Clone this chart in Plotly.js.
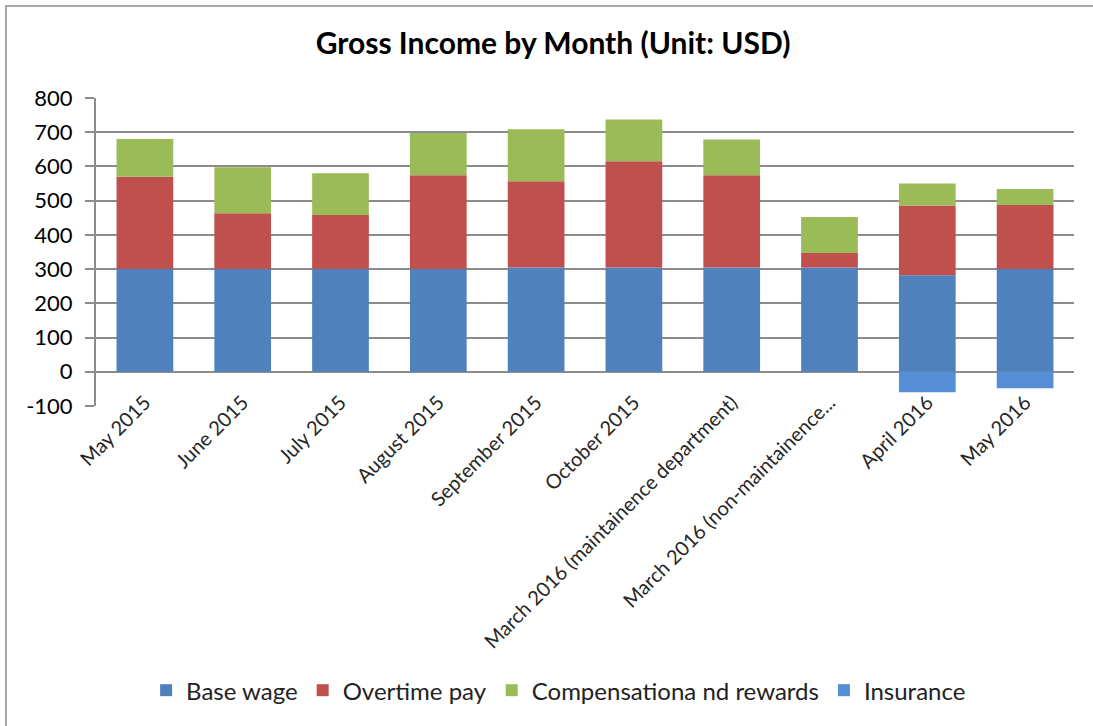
<!DOCTYPE html>
<html>
<head>
<meta charset="utf-8">
<script src="https://cdn.plot.ly/plotly-3.0.1.min.js"></script>
<style>
  html, body { margin: 0; padding: 0; background: #fff; }
  #wrap { position: relative; width: 1093px; height: 726px; }
  #chart { width: 1093px; height: 726px; }
  #frame { position: absolute; left: 5px; top: 5px; width: 1088px; height: 721px;
           border-left: 2px solid #a6a6a6; border-top: 2px solid #a6a6a6;
           box-sizing: border-box; pointer-events: none; }
</style>
</head>
<body>
<div id="wrap">
  <div id="chart"></div>
  <div id="frame"></div>
</div>
<script>
const categories = [
  "May 2015", "June 2015", "July 2015", "August 2015", "September 2015",
  "October 2015", "March 2016 (maintainence department)",
  "March 2016 (non-maintainence...", "April 2016", "May 2016"
];
const baseWage     = [300, 300, 300, 300, 305, 305, 305, 305, 282, 300];
const overtimePay  = [270, 163, 158, 274, 252, 310, 269, 42, 204, 187];
const compensation = [110, 135, 122, 124, 152, 122, 105, 105, 64, 47];
const insurance    = [0, 0, 0, 0, 0, 0, 0, 0, -60, -48];
const seriesNames  = ["Base wage", "Overtime pay", "Compensationa nd rewards", "Insurance"];
const yTicks       = [-100, 0, 100, 200, 300, 400, 500, 600, 700, 800];

const colors = ["#4F81BD", "#C0504D", "#9BBB59", "#558ED5"];
const series = [baseWage, overtimePay, compensation, insurance];

const traces = series.map((vals, i) => ({
  type: "bar",
  name: seriesNames[i],
  x: categories,
  y: vals,
  marker: { color: colors[i], line: { width: 0 } },
  hoverinfo: "x+y+name"
}));

const FONT = "Lato, 'Open Sans', sans-serif";

const layout = {
  width: 1093,
  height: 726,
  barmode: "relative",
  bargap: 0.42,
  paper_bgcolor: "#ffffff",
  plot_bgcolor: "#ffffff",
  margin: { l: 96, r: 19, t: 98, b: 320 },
  title: {
    text: "<b>Gross Income by Month (Unit: USD)</b>",
    font: { family: FONT, size: 30, color: "#000000" },
    x: 0.506, xanchor: "center", xref: "container",
    y: 0.94, yref: "container", yanchor: "middle"
  },
  font: { family: FONT, color: "#222222" },
  xaxis: {
    type: "category",
    tickangle: -45,
    tickfont: { family: FONT, size: 20, color: "#262626" },
    showgrid: false,
    showline: false,
    ticks: "",
    ticklabelstandoff: -20,
    automargin: false
  },
  yaxis: {
    range: [-100, 800],
    tickvals: yTicks,
    ticktext: yTicks.map(String),
    tickfont: { family: FONT, size: 22, color: "#000000" },
    showgrid: true,
    gridcolor: "#8c8c8c",
    gridwidth: 2,
    zeroline: true,
    zerolinecolor: "#8c8c8c",
    zerolinewidth: 2,
    showline: true,
    linecolor: "#8c8c8c",
    linewidth: 2,
    ticks: "outside",
    ticklen: 9,
    tickwidth: 2,
    tickcolor: "#8c8c8c",
    ticklabelstandoff: 8,
    automargin: false
  },
  showlegend: true,
  legend: {
    orientation: "h",
    x: 0.473, xanchor: "center",
    y: -0.924, yanchor: "middle",
    font: { family: FONT, size: 24, color: "#222222" },
    traceorder: "normal",
    itemwidth: 30
  }
};

Plotly.newPlot("chart", traces, layout, { displayModeBar: false, staticPlot: true });
</script>
</body>
</html>
